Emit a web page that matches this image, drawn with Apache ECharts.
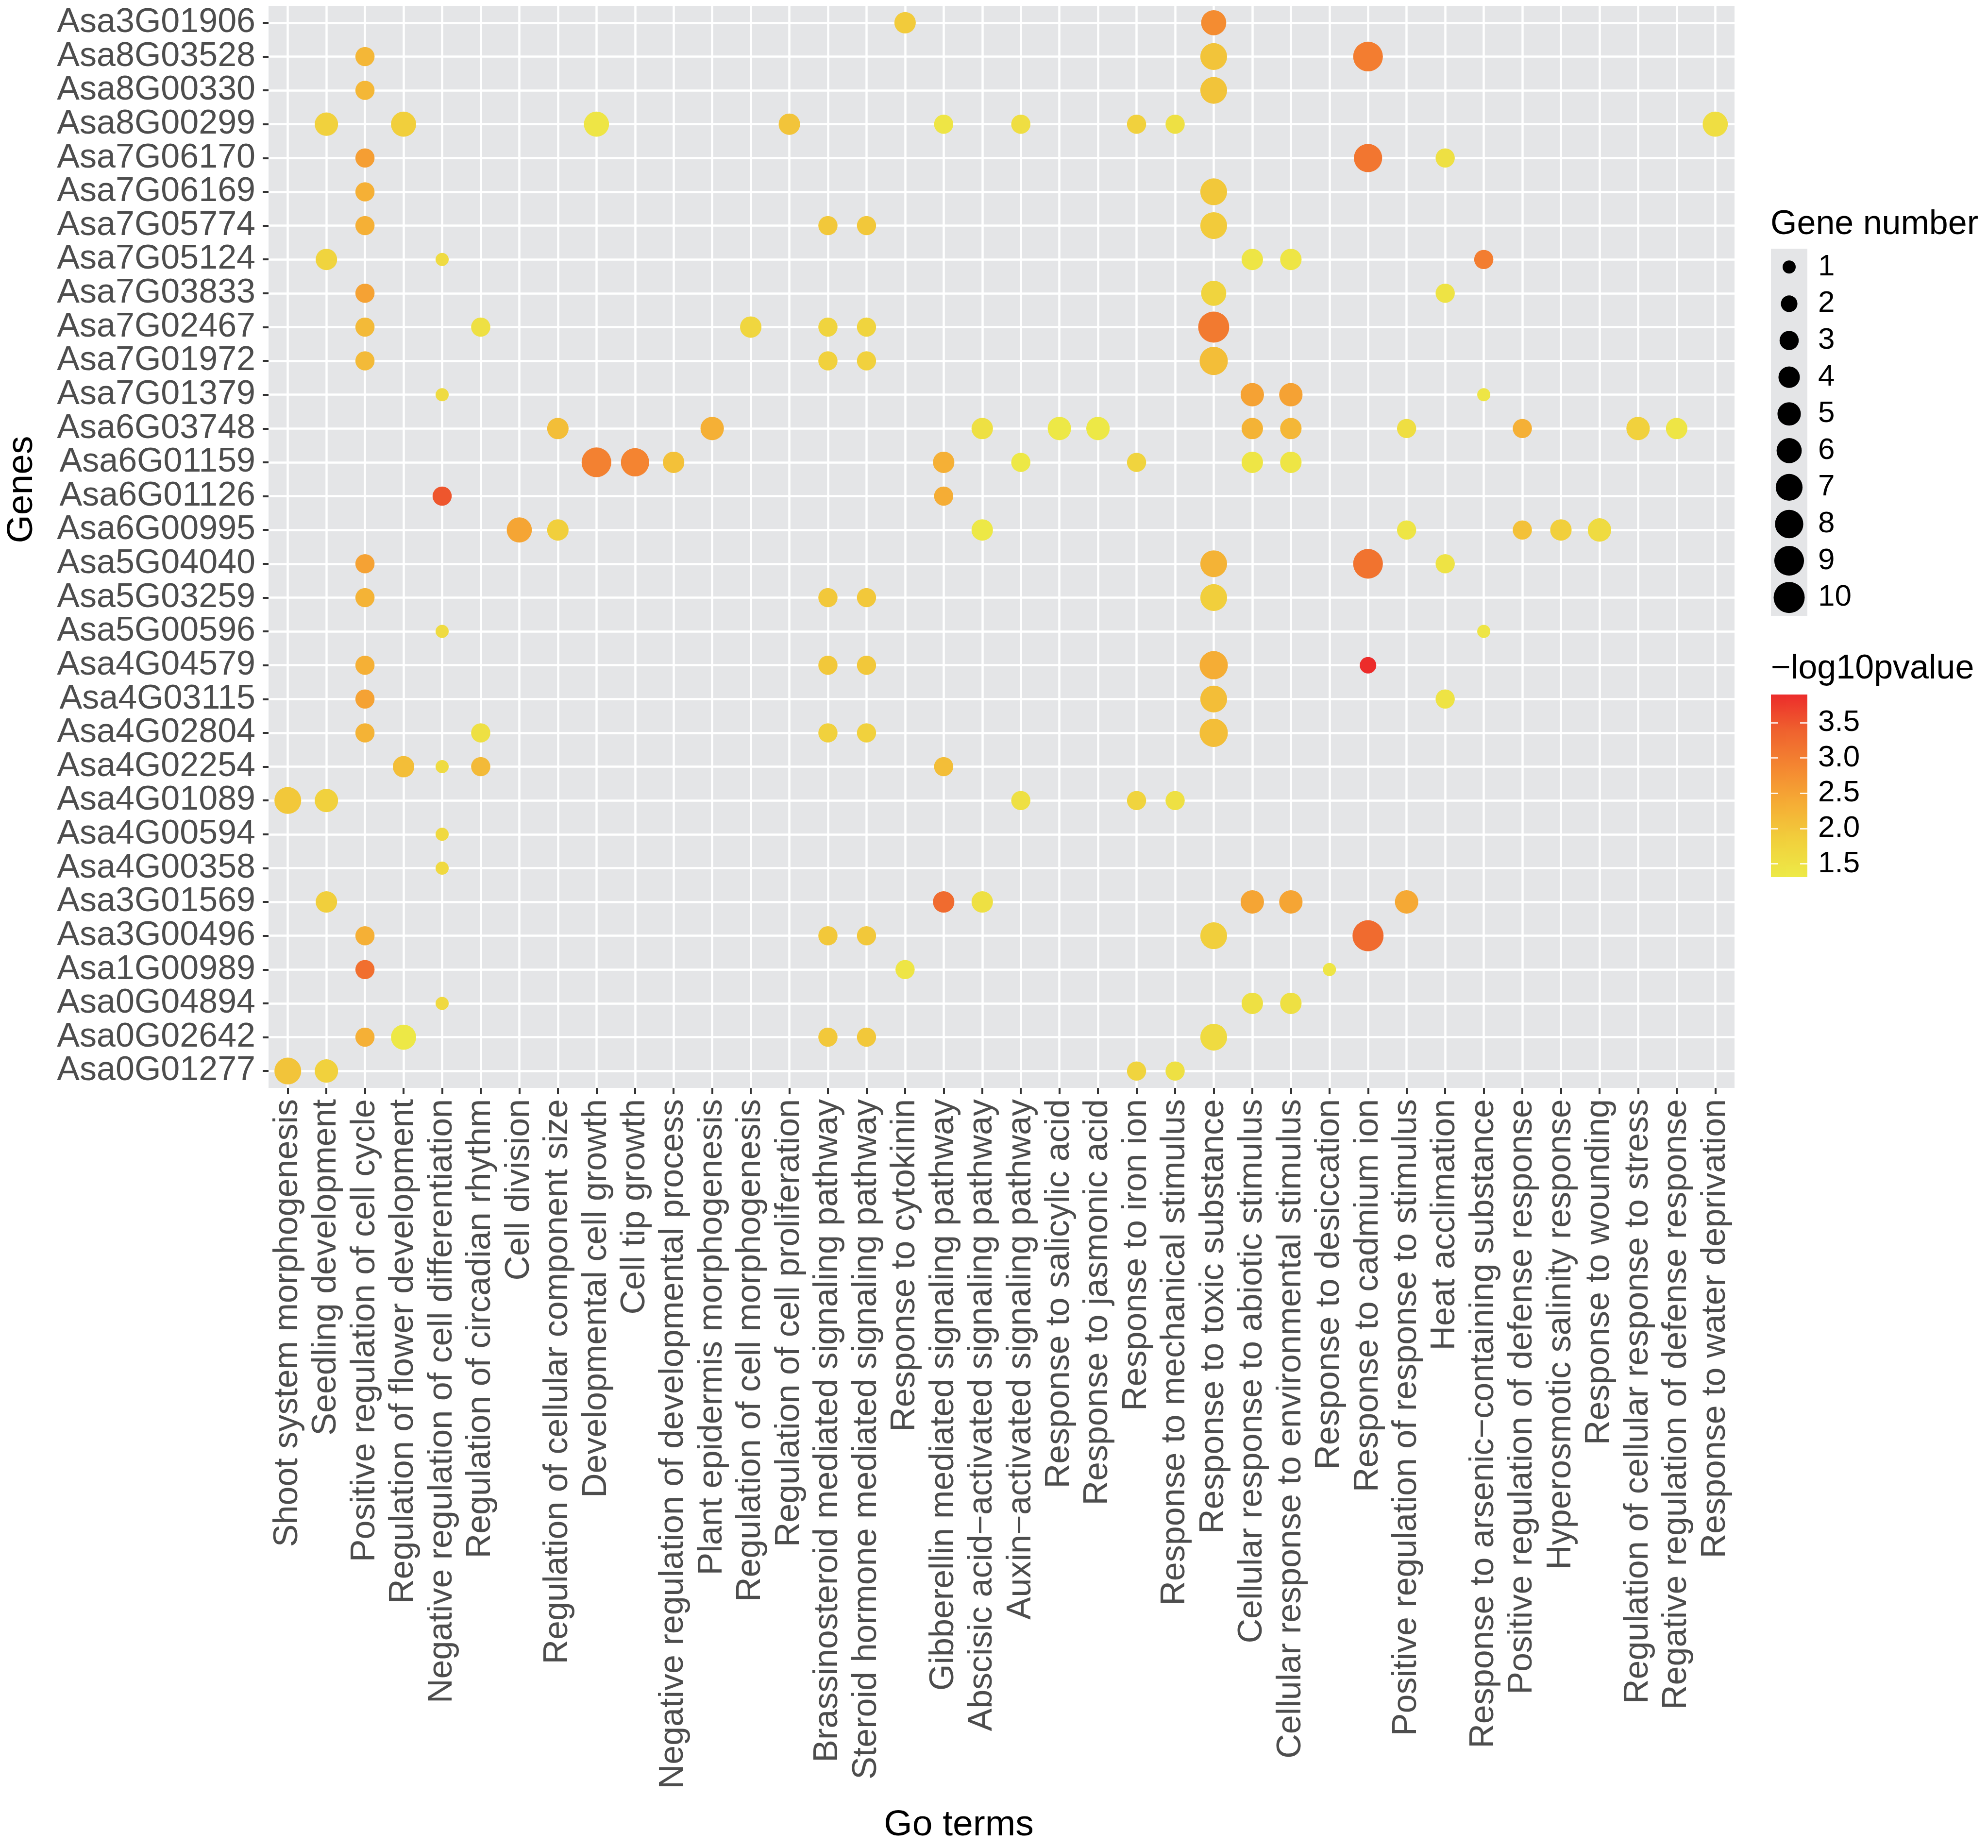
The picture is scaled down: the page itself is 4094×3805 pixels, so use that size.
<!DOCTYPE html>
<html>
<head>
<meta charset="utf-8">
<script src="https://cdn.jsdelivr.net/npm/echarts@6/dist/echarts.min.js"></script>
<style>
html,body{margin:0;padding:0;background:#fff;}
#chart{width:4094px;height:3805px;}
</style>
</head>
<body>
<div id="chart"></div>
<script>
// ---- data ----
const goTerms = [
  "Shoot system morphogenesis","Seedling development","Positive regulation of cell cycle",
  "Regulation of flower development","Negative regulation of cell differentiation",
  "Regulation of circadian rhythm","Cell division","Regulation of cellular component size",
  "Developmental cell growth","Cell tip growth","Negative regulation of developmental process",
  "Plant epidermis morphogenesis","Regulation of cell morphogenesis","Regulation of cell proliferation",
  "Brassinosteroid mediated signaling pathway","Steroid hormone mediated signaling pathway",
  "Response to cytokinin","Gibberellin mediated signaling pathway",
  "Abscisic acid\u2212activated signaling pathway","Auxin\u2212activated signaling pathway",
  "Response to salicylic acid","Response to jasmonic acid","Response to iron ion",
  "Response to mechanical stimulus","Response to toxic substance",
  "Cellular response to abiotic stimulus","Cellular response to environmental stimulus",
  "Response to desiccation","Response to cadmium ion","Positive regulation of response to stimulus",
  "Heat acclimation","Response to arsenic\u2212containing substance",
  "Positive regulation of defense response","Hyperosmotic salinity response","Response to wounding",
  "Regulation of cellular response to stress","Regative regulation of defense response",
  "Response to water deprivation"
];
const genes = [
  "Asa3G01906","Asa8G03528","Asa8G00330","Asa8G00299","Asa7G06170","Asa7G06169","Asa7G05774",
  "Asa7G05124","Asa7G03833","Asa7G02467","Asa7G01972","Asa7G01379","Asa6G03748","Asa6G01159",
  "Asa6G01126","Asa6G00995","Asa5G04040","Asa5G03259","Asa5G00596","Asa4G04579","Asa4G03115",
  "Asa4G02804","Asa4G02254","Asa4G01089","Asa4G00594","Asa4G00358","Asa3G01569","Asa3G00496",
  "Asa1G00989","Asa0G04894","Asa0G02642","Asa0G01277"
];
// per gene (same order as genes): [GO term number (1-based), gene number, -log10 p]
const geneDots = [
  [[17,4,1.90],[25,6,2.80]],
  [[3,3,2.20],[25,7,2.00],[29,9,3.00]],
  [[3,3,2.20],[25,7,2.00]],
  [[2,5,1.80],[4,6,1.85],[9,6,1.40],[14,4,2.00],[18,3,1.40],[20,3,1.55],[23,3,1.80],[24,3,1.50],[38,6,1.55]],
  [[3,3,2.55],[29,8,3.10],[31,3,1.50]],
  [[3,3,2.30],[25,7,1.95]],
  [[3,3,2.30],[15,3,1.95],[16,3,1.95],[25,7,1.90]],
  [[2,4,1.75],[5,1,1.60],[26,4,1.40],[27,4,1.40],[32,3,3.00]],
  [[3,3,2.50],[25,6,1.75],[31,3,1.45]],
  [[3,3,2.15],[6,3,1.50],[13,4,1.70],[15,3,1.75],[16,3,1.75],[25,10,3.05]],
  [[3,3,2.15],[15,3,1.80],[16,3,1.80],[25,8,2.10]],
  [[5,1,1.60],[26,5,2.50],[27,5,2.50],[32,1,1.40]],
  [[8,4,2.10],[12,5,2.30],[19,4,1.50],[21,5,1.35],[22,5,1.35],[26,4,2.25],[27,4,2.20],[30,3,1.55],[33,3,2.30],[36,5,1.80],[37,4,1.40]],
  [[9,9,2.95],[10,8,2.90],[11,4,2.05],[18,4,2.30],[20,3,1.35],[23,3,1.75],[26,4,1.40],[27,4,1.40]],
  [[5,3,3.50],[18,3,2.35]],
  [[7,6,2.45],[8,4,1.85],[19,4,1.35],[30,3,1.40],[33,3,2.05],[34,4,1.85],[35,5,1.60]],
  [[3,3,2.50],[25,7,2.25],[29,9,3.15],[31,3,1.45]],
  [[3,3,2.25],[15,3,1.95],[16,3,1.95],[25,7,1.85]],
  [[5,1,1.60],[32,1,1.40]],
  [[3,3,2.30],[15,3,1.95],[16,3,1.95],[25,8,2.35],[29,2,3.90]],
  [[3,3,2.50],[25,7,2.10],[31,3,1.45]],
  [[3,3,2.25],[6,3,1.50],[15,3,1.80],[16,3,1.80],[25,8,2.10]],
  [[4,4,2.10],[5,1,1.60],[6,3,2.15],[18,3,2.10]],
  [[1,7,1.95],[2,5,1.80],[20,3,1.50],[23,3,1.75],[24,3,1.50]],
  [[5,1,1.65]],
  [[5,1,1.65]],
  [[2,4,1.85],[18,4,3.25],[19,4,1.50],[26,5,2.45],[27,5,2.45],[30,5,2.40]],
  [[3,3,2.30],[15,3,1.95],[16,3,1.95],[25,7,1.85],[29,10,3.25]],
  [[3,3,3.20],[17,3,1.40],[28,1,1.40]],
  [[5,1,1.65],[26,4,1.50],[27,4,1.50]],
  [[3,3,2.30],[4,6,1.35],[15,3,1.95],[16,3,1.95],[25,7,1.60]],
  [[1,7,2.00],[2,5,1.80],[23,3,1.75],[24,3,1.50]]
];
const sizeBreaks = [1,2,3,4,5,6,7,8,9,10];
const colorTicks = [1.5,2.0,2.5,3.0,3.5];
const colorMin = 1.31;
const colorMax = 3.90;
const gradientColors = ['#EDEA47','#F1D03C','#F5AD35','#F48731','#EF622E','#EC2C2B'];

// ---- build ----
const FONT = "'Liberation Sans', Arial, Helvetica, sans-serif";
const dotDiameter = n => 9.9 + 17.1 * Math.sqrt(n);

const points = [];
geneDots.forEach((list, gi) => {
  list.forEach(d => points.push([d[0] - 1, gi, d[1], d[2]]));
});
const sizeLegendData = sizeBreaks.map((n, i) => [0, i, n]);

const chart = echarts.init(document.getElementById('chart'), null, {renderer: 'canvas'});
const PANEL = '#E4E5E7';

const option = {
  backgroundColor: '#ffffff',
  animation: false,
  textStyle: {fontFamily: FONT},
  title: [
    {text: 'Gene number', left: 3646, top: 428, padding: 0,
     textStyle: {fontFamily: FONT, fontSize: 70, fontWeight: 'normal', color: '#000'}},
    {text: '\u2212log10pvalue', left: 3647, top: 1343, padding: 0,
     textStyle: {fontFamily: FONT, fontSize: 70, fontWeight: 'normal', color: '#000'}}
  ],
  grid: [
    {left: 552, top: 12, width: 3020, height: 2228, show: true, backgroundColor: PANEL, borderWidth: 0, containLabel: false},
    {left: 3647, top: 512, width: 75, height: 756, show: true, backgroundColor: PANEL, borderWidth: 0, containLabel: false},
    {left: 3647, top: 1430, width: 75, height: 376, show: false, containLabel: false}
  ],
  xAxis: [
    {type: 'category', gridIndex: 0, data: goTerms, boundaryGap: true,
     name: 'Go terms', nameLocation: 'middle', nameGap: 1481,
     nameTextStyle: {fontFamily: FONT, fontSize: 75, color: '#000', padding: [0, 176, 0, 0]},
     axisLine: {show: false},
     axisTick: {show: true, alignWithLabel: true, interval: 0, length: 12, lineStyle: {color: '#333333', width: 4}},
     axisLabel: {interval: 0, rotate: 90, margin: 23, fontSize: 70, color: '#4D4D4D', fontFamily: FONT},
     splitLine: {show: true, alignWithLabel: true, interval: 0, lineStyle: {color: '#ffffff', width: 4.5}}},
    {type: 'category', gridIndex: 1, data: [''], show: false},
    {type: 'category', gridIndex: 2, data: [''], show: false}
  ],
  yAxis: [
    {type: 'category', gridIndex: 0, data: genes, inverse: true, boundaryGap: true,
     name: 'Genes', nameLocation: 'middle', nameGap: 470,
     nameTextStyle: {fontFamily: FONT, fontSize: 75, color: '#000', padding: [0, 0, 0, 236]},
     axisLine: {show: false},
     axisTick: {show: true, alignWithLabel: true, interval: 0, length: 12, lineStyle: {color: '#333333', width: 4}},
     axisLabel: {interval: 0, margin: 27, fontSize: 70, color: '#4D4D4D', fontFamily: FONT},
     splitLine: {show: true, alignWithLabel: true, interval: 0, lineStyle: {color: '#ffffff', width: 4.5}}},
    {type: 'category', gridIndex: 1, data: sizeBreaks.map(String), inverse: true, position: 'right',
     axisLine: {show: false}, axisTick: {show: false}, splitLine: {show: false},
     axisLabel: {interval: 0, margin: 22, fontSize: 62, color: '#000', fontFamily: FONT}},
    {type: 'value', gridIndex: 2, min: colorMin, max: colorMax, position: 'left', z: 10,
     axisLine: {show: false}, splitLine: {show: false}, axisLabel: {show: false},
     axisTick: {show: true, inside: true, length: 15, customValues: colorTicks, lineStyle: {color: '#ffffff', width: 2.5}}},
    {type: 'value', gridIndex: 2, min: colorMin, max: colorMax, position: 'right', z: 10,
     axisLine: {show: false}, splitLine: {show: false},
     axisTick: {show: true, inside: true, length: 15, customValues: colorTicks, lineStyle: {color: '#ffffff', width: 2.5}},
     axisLabel: {show: true, customValues: colorTicks, formatter: v => Number(v).toFixed(1),
                 margin: 22, fontSize: 62, color: '#000', fontFamily: FONT}}
  ],
  visualMap: [{
    type: 'continuous', show: false, seriesIndex: 0, dimension: 3,
    min: colorMin, max: colorMax, inRange: {color: gradientColors}
  }],
  series: [
    {type: 'scatter', xAxisIndex: 0, yAxisIndex: 0, data: points, z: 5,
     symbol: 'circle', symbolSize: v => dotDiameter(v[2]),
     itemStyle: {opacity: 1}, silent: true},
    {type: 'scatter', xAxisIndex: 1, yAxisIndex: 1, data: sizeLegendData, z: 5,
     symbol: 'circle', symbolSize: v => dotDiameter(v[2]),
     itemStyle: {color: '#000000', opacity: 1}, silent: true},
    {type: 'bar', xAxisIndex: 2, yAxisIndex: 2, stack: 'cbar', data: [colorMin],
     barWidth: '100%', itemStyle: {color: 'rgba(0,0,0,0)'}, silent: true},
    {type: 'bar', xAxisIndex: 2, yAxisIndex: 2, stack: 'cbar', data: [colorMax - colorMin],
     barWidth: '100%', silent: true,
     itemStyle: {color: new echarts.graphic.LinearGradient(0, 1, 0, 0,
       gradientColors.map((c, i) => ({offset: i / (gradientColors.length - 1), color: c})))}}
  ]
};
chart.setOption(option);
</script>
</body>
</html>
